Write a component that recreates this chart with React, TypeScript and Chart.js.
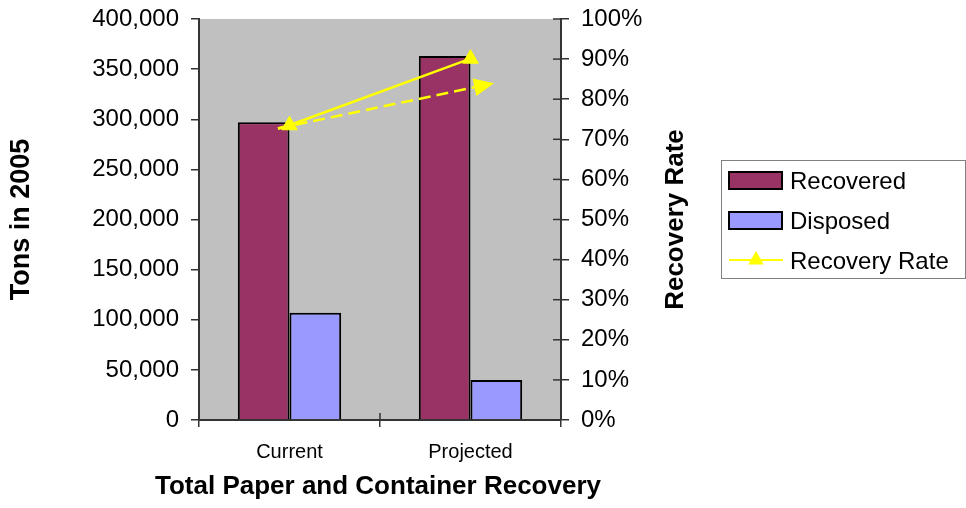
import React, { useEffect, useRef } from 'react';
import { Chart, registerables } from 'chart.js';

Chart.register(...registerables);

// ---- data ----
const categories = ['Current', 'Projected'];
const recovered = [297000, 363000];
const disposed = [107000, 40000];
const recoveryRate = [73.5, 90.1]; // percent
// arrow annotations: [category position, rate %]
const arrowStart = [-0.064, 72.7];
const dashedArrowEnd = [1.13, 84];
const tonsTicks = [0, 400000, 50000]; // min, max, step
const rateTicks = [0, 100, 10];
const xTitle = 'Total Paper and Container Recovery';
const yTitle = 'Tons in 2005';
const y1Title = 'Recovery Rate';

const FONT = "'Liberation Sans', Arial, Helvetica, sans-serif";
const AXIS = '#333333';
const YELLOW = '#FFFF00';
const C_RECOVERED = '#993366';
const C_DISPOSED = '#9999FF';

function triangle(ctx: CanvasRenderingContext2D, x: number, y: number, r: number) {
  ctx.beginPath();
  ctx.moveTo(x, y - r);
  ctx.lineTo(x + r * 0.866, y + r * 0.5);
  ctx.lineTo(x - r * 0.866, y + r * 0.5);
  ctx.closePath();
  ctx.fill();
}

const decorPlugin = {
  id: 'decor',
  beforeDraw(chart: any) {
    const { ctx, chartArea: a } = chart;
    ctx.save();
    ctx.fillStyle = '#C0C0C0';
    ctx.fillRect(a.left, a.top, a.right - a.left, a.bottom - a.top);
    ctx.restore();
  },
  afterDatasetsDraw(chart: any) {
    const { ctx } = chart;
    const xs = chart.scales.x;
    const ys = chart.scales.y1;
    const sx = xs.getPixelForValue(arrowStart[0]);
    const sy = ys.getPixelForValue(arrowStart[1]);
    const p0x = xs.getPixelForValue(0);
    const p0y = ys.getPixelForValue(recoveryRate[0]);
    ctx.save();
    ctx.strokeStyle = YELLOW;
    ctx.fillStyle = YELLOW;
    ctx.lineWidth = 2.5;
    ctx.beginPath();
    ctx.moveTo(sx, sy);
    ctx.lineTo(p0x, p0y);
    ctx.stroke();
    const ex = xs.getPixelForValue(dashedArrowEnd[0]);
    const ey = ys.getPixelForValue(dashedArrowEnd[1]);
    const ang = Math.atan2(ey - sy, ex - sx);
    const headLen = 20;
    const headW = 9;
    const bx = ex - headLen * Math.cos(ang);
    const by = ey - headLen * Math.sin(ang);
    ctx.setLineDash([12, 6]);
    ctx.beginPath();
    ctx.moveTo(sx, sy);
    ctx.lineTo(bx, by);
    ctx.stroke();
    ctx.setLineDash([]);
    ctx.beginPath();
    ctx.moveTo(ex, ey);
    ctx.lineTo(bx - headW * Math.sin(ang), by + headW * Math.cos(ang));
    ctx.lineTo(bx + headW * Math.sin(ang), by - headW * Math.cos(ang));
    ctx.closePath();
    ctx.fill();
    ctx.restore();
  },
  afterDraw(chart: any) {
    const { ctx, chartArea: a } = chart;
    const xs = chart.scales.x;
    const ys1 = chart.scales.y1;
    ctx.save();
    ctx.strokeStyle = AXIS;
    ctx.lineWidth = 1.5;
    ys1.ticks.forEach((t: any) => {
      const y = ys1.getPixelForValue(t.value);
      ctx.beginPath();
      ctx.moveTo(a.right - 8, y);
      ctx.lineTo(a.right, y);
      ctx.stroke();
    });
    const mid = (xs.getPixelForValue(0) + xs.getPixelForValue(1)) / 2;
    ctx.beginPath();
    ctx.moveTo(mid, a.bottom - 7);
    ctx.lineTo(mid, a.bottom);
    ctx.stroke();

    ctx.fillStyle = '#000';
    ctx.textAlign = 'center';
    ctx.textBaseline = 'middle';
    // bottom axis title
    ctx.font = `bold 26px ${FONT}`;
    ctx.fillText(xTitle, (a.left + a.right) / 2 - 2, a.bottom + 67);
    // left axis title
    ctx.font = `bold 27px ${FONT}`;
    ctx.save();
    ctx.translate(22, (a.top + a.bottom) / 2);
    ctx.rotate(-Math.PI / 2);
    ctx.fillText(yTitle, 0, 0);
    ctx.restore();
    // right axis title (reads bottom-to-top)
    ctx.font = `bold 26px ${FONT}`;
    ctx.save();
    ctx.translate(a.right + 115, (a.top + a.bottom) / 2);
    ctx.rotate(-Math.PI / 2);
    ctx.fillText(y1Title, 0, 0);
    ctx.restore();

    // legend
    const lx = a.right + 160;
    const ly = 160;
    ctx.strokeStyle = '#808080';
    ctx.lineWidth = 1;
    ctx.strokeRect(lx + 0.5, ly + 0.5, 244, 118);
    const ds = chart.data.datasets;
    const rows = [ly + 21, ly + 61, ly + 101];
    ctx.font = `24px ${FONT}`;
    ctx.textAlign = 'left';
    ctx.textBaseline = 'middle';
    const order = [1, 2, 0];
    order.forEach((di, i) => {
      const d = ds[di];
      const cy = rows[i];
      if (d.type === 'line') {
        ctx.strokeStyle = YELLOW;
        ctx.lineWidth = 2;
        ctx.beginPath();
        ctx.moveTo(lx + 8, cy - 1);
        ctx.lineTo(lx + 62, cy - 1);
        ctx.stroke();
        ctx.fillStyle = YELLOW;
        triangle(ctx, lx + 35, cy - 1, 9);
      } else {
        ctx.fillStyle = d.backgroundColor;
        ctx.fillRect(lx + 8, cy - 9, 53, 17);
        ctx.strokeStyle = '#000';
        ctx.lineWidth = 2;
        ctx.strokeRect(lx + 8, cy - 9, 53, 17);
      }
      ctx.fillStyle = '#000';
      ctx.fillText(d.label, lx + 69, cy + 1);
    });
    ctx.restore();
  },
};

export default function App() {
  const ref = useRef<HTMLCanvasElement | null>(null);

  useEffect(() => {
    document.body.style.margin = '0';
    const canvas = ref.current;
    if (!canvas) return;
    Chart.defaults.font.family = FONT;
    Chart.defaults.color = '#000';

    const vFit = (w: number) => (s: any) => {
      s.width = w;
      s.paddingTop = 0;
      s.paddingBottom = 0;
    };

    const chart = new Chart(canvas, {
      type: 'bar',
      data: {
        labels: categories,
        datasets: [
          {
            type: 'line',
            label: 'Recovery Rate',
            data: recoveryRate,
            yAxisID: 'y1',
            borderColor: YELLOW,
            backgroundColor: YELLOW,
            borderWidth: 2.5,
            pointStyle: 'triangle',
            pointRadius: 9,
            pointBorderWidth: 1,
            pointBorderColor: YELLOW,
            pointBackgroundColor: YELLOW,
            order: 0,
          } as any,
          {
            type: 'bar',
            label: 'Recovered',
            data: recovered,
            yAxisID: 'y',
            backgroundColor: C_RECOVERED,
            borderColor: '#000',
            borderWidth: 2,
            categoryPercentage: 0.571,
            barPercentage: 1,
            order: 1,
          },
          {
            type: 'bar',
            label: 'Disposed',
            data: disposed,
            yAxisID: 'y',
            backgroundColor: C_DISPOSED,
            borderColor: '#000',
            borderWidth: 2,
            categoryPercentage: 0.571,
            barPercentage: 1,
            order: 1,
          },
        ],
      },
      options: {
        animation: false,
        responsive: true,
        maintainAspectRatio: false,
        devicePixelRatio: 1,
        layout: { padding: { top: 19, right: 265, left: 0, bottom: 0 } },
        plugins: {
          legend: { display: false },
          tooltip: { enabled: false },
        },
        scales: {
          x: {
            type: 'category',
            offset: true,
            grid: {
              display: true,
              drawOnChartArea: false,
              offset: true,
              color: AXIS,
              lineWidth: 1.5,
              tickLength: 7,
            },
            border: { display: true, color: AXIS, width: 2 },
            ticks: { font: { size: 20 }, color: '#000', padding: 13, maxRotation: 0 },
            afterFit: (s: any) => {
              s.height = 88;
              s.paddingLeft = 0;
              s.paddingRight = 0;
            },
          },
          y: {
            position: 'left',
            min: tonsTicks[0],
            max: tonsTicks[1],
            grid: { drawOnChartArea: false, color: AXIS, lineWidth: 1.5, tickLength: 8 },
            border: { display: true, color: AXIS, width: 2 },
            ticks: {
              stepSize: tonsTicks[2],
              autoSkip: false,
              font: { size: 24 },
              color: '#000',
              padding: 12,
              callback: (v: any) => Number(v).toLocaleString('en-US'),
            },
            afterFit: vFit(199),
          },
          y1: {
            position: 'right',
            min: rateTicks[0],
            max: rateTicks[1],
            grid: { drawOnChartArea: false, color: AXIS, lineWidth: 1.5, tickLength: 8 },
            border: { display: true, color: AXIS, width: 2 },
            ticks: {
              stepSize: rateTicks[2],
              autoSkip: false,
              font: { size: 24 },
              color: '#000',
              padding: 12,
              callback: (v: any) => `${v}%`,
            },
            afterFit: vFit(140),
          },
        },
      },
      plugins: [decorPlugin],
    } as any);

    return () => chart.destroy();
  }, []);

  return (
    <div style={{ width: 966, height: 508, position: 'relative' }}>
      <canvas ref={ref} />
    </div>
  );
}
